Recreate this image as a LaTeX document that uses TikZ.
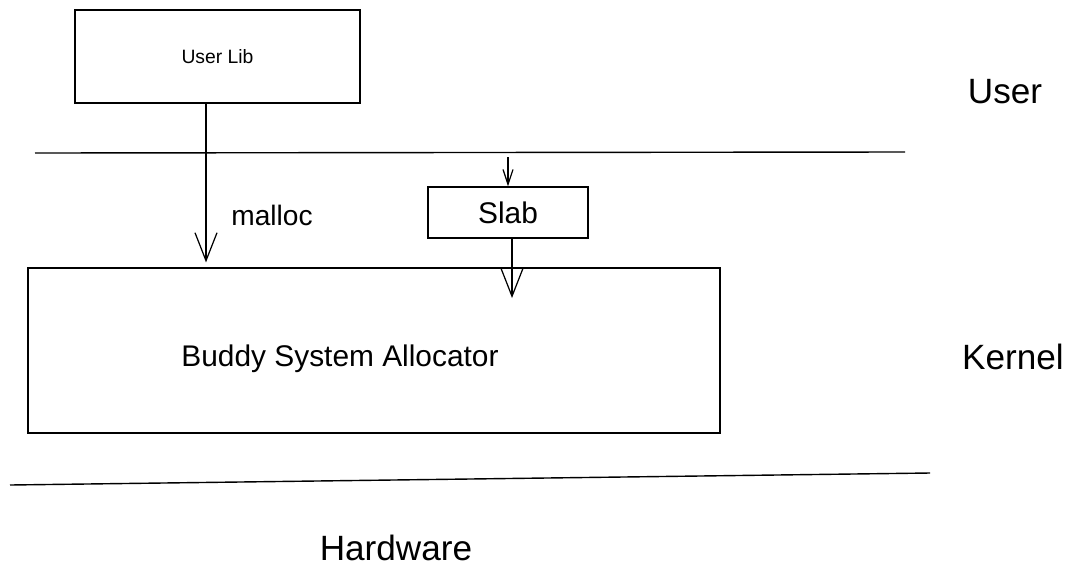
\documentclass[tikz,border=0pt]{standalone}
\usepackage{fontspec}
\setmainfont{Liberation Sans}
\usetikzlibrary{arrows.meta}
\usetikzlibrary{positioning}
\usetikzlibrary{calc}

\tikzset{
  box/.style={draw, line width=0.7pt, inner sep=0pt},
  layer/.style={font=\fontsize{20}{24}\selectfont},
  sep/.style={draw, line width=0.8pt},
  arr/.style={draw, line width=0.7pt, -{Straight Barb[length=0.56cm, width=0.44cm]}},
  smallarr/.style={draw, line width=0.7pt, -{Straight Barb[length=0.3cm, width=0.2cm]}}
}

\begin{document}
\begin{tikzpicture}[x=0.02cm, y=-0.02cm]

                \useasboundingbox (0,0) rectangle (1085,572);

                % boxes
                \node[box, minimum width=5.7cm, minimum height=1.86cm, font=\fontsize{11}{13}\selectfont] (ulib) at (217.5,56.5) {User Lib};
                \node[box, minimum width=3.2cm, minimum height=1.02cm, font=\fontsize{17}{20}\selectfont] (slab) at (508,212.5) {Slab};
                \node[box, minimum width=13.84cm, minimum height=3.3cm] (buddy) at (374,350.5) {};
                \node[font=\fontsize{17}{20}\selectfont] (buddy_txt) at (340,359) {Buddy System Allocator};

                % layer names
                \node[layer] (user) at (1005,92) {User};
                \node[layer] (kernel) at (1013,357) {Kernel};
                \node[layer] (hw) at (396,548) {Hardware};

                % separators
                \coordinate (l1_a) at (35,153);
                \coordinate (l1_b) at (905,152);
                \coordinate (l2_a) at (10,485);
                \coordinate (l2_b) at (930,473);
                \path[sep] (l1_a) -- (l1_b);
                \path[sep] (l2_a) -- (l2_b);

                % arrows
                \coordinate (m_x) at (206,0);
                \coordinate (s_in) at (508,157);
                \coordinate (s_out) at (512,298);
                \path[arr] (ulib.south -| m_x) -- ($(buddy.north -| m_x)+(0,-5)$);
                \node[font=\fontsize{16}{19}\selectfont] (malloc) at (272,215) {malloc};
                \path[smallarr] (s_in) -- (slab.north);
                \path[arr] (slab.south -| s_out) -- (s_out);

\end{tikzpicture}
\end{document}
